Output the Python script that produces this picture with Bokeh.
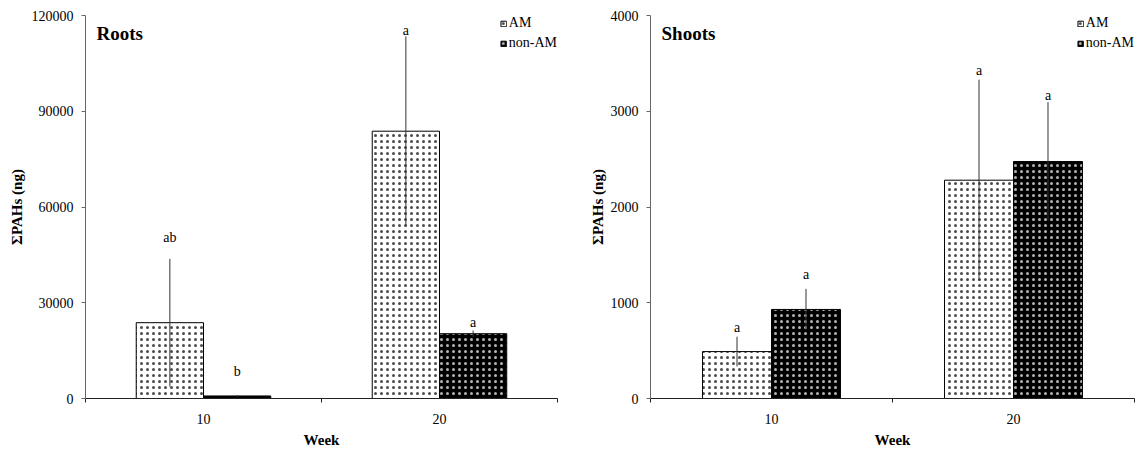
from bokeh.plotting import figure
from bokeh.models import (Range1d, FixedTicker, BasicTickFormatter, Legend,
                          LegendItem, Label, ColumnDataSource)
from bokeh.layouts import row
from bokeh.embed import file_html
from bokeh.resources import INLINE

# ---------------- data ----------------
weeks = ["10", "20"]
groups = ["AM", "non-AM"]

roots_am = [23750, 83750]
roots_am_err = [20000, 29700]
roots_non = [800, 20300]
roots_non_err = [300, 1000]
roots_am_letters = ["ab", "a"]
roots_non_letters = ["b", "a"]
roots_am_letter_y = [50600, 115300]
roots_non_letter_y = [8400, 23800]
roots_ticks = [0, 30000, 60000, 90000, 120000]

shoots_am = [490, 2280]
shoots_am_err = [155, 1050]
shoots_non = [930, 2475]
shoots_non_err = [215, 620]
shoots_am_letters = ["a", "a"]
shoots_non_letters = ["a", "a"]
shoots_am_letter_y = [740, 3430]
shoots_non_letter_y = [1290, 3160]
shoots_ticks = [0, 1000, 2000, 3000, 4000]

FONT = "Liberation Serif"
BAR_W = 0.285


def panel(title, am, am_err, non, non_err, am_let, non_let, am_ly, non_ly,
          ticks, width, mbl, mbr, ylabel_standoff):
    n = len(weeks)
    p = figure(width=width, height=450, output_backend="svg",
               toolbar_location=None, x_range=Range1d(0, n),
               y_range=Range1d(ticks[0], ticks[-1]),
               min_border_left=mbl, min_border_right=mbr,
               min_border_top=15, min_border_bottom=51)
    p.outline_line_color = None
    p.xgrid.visible = False
    p.ygrid.visible = False
    p.background_fill_color = "white"

    centers = [i + 0.5 for i in range(n)]
    x_am = [c - BAR_W / 2 for c in centers]
    x_non = [c + BAR_W / 2 for c in centers]

    src_am = ColumnDataSource(dict(
        x=x_am, top=am, lo=[v - e for v, e in zip(am, am_err)],
        hi=[v + e for v, e in zip(am, am_err)], let=am_let, ly=am_ly))
    src_non = ColumnDataSource(dict(
        x=x_non, top=non, lo=[v - e for v, e in zip(non, non_err)],
        hi=[v + e for v, e in zip(non, non_err)], let=non_let, ly=non_ly))

    r_am = p.vbar(x="x", top="top", bottom=0, width=BAR_W, source=src_am,
                  fill_color="white", line_color="black", line_width=1,
                  hatch_pattern="dot", hatch_color="black", hatch_scale=6,
                  hatch_weight=0.5, hatch_alpha=0.7)
    r_non = p.vbar(x="x", top="top", bottom=0, width=BAR_W, source=src_non,
                   fill_color="black", line_color="black", line_width=1,
                   hatch_pattern="dot", hatch_color="white", hatch_scale=6,
                   hatch_weight=0.5, hatch_alpha=0.7)

    for s in (src_am, src_non):
        p.segment(x0="x", x1="x", y0="lo", y1="hi", source=s,
                  line_color="#333333", line_width=1)
        p.text(x="x", y="ly", text="let", source=s, text_align="center",
               text_baseline="middle", text_font=FONT, text_font_size="14px",
               text_color="black")

    # axes
    xa = p.xaxis[0]
    xa.ticker = FixedTicker(ticks=centers, minor_ticks=list(range(0, n + 1)))
    xa.major_label_overrides = {c: w for c, w in zip(centers, weeks)}
    xa.major_tick_out = 0
    xa.major_tick_in = 0
    xa.minor_tick_out = 4
    xa.minor_tick_in = 0
    xa.major_label_standoff = 11
    xa.axis_line_color = "#222222"
    xa.minor_tick_line_color = "#222222"
    xa.major_label_text_font = FONT
    xa.major_label_text_font_size = "14px"
    xa.major_label_text_color = "black"
    xa.axis_label = "Week"
    xa.axis_label_text_font = FONT
    xa.axis_label_text_font_size = "15px"
    xa.axis_label_text_font_style = "bold"
    xa.axis_label_text_color = "black"
    xa.axis_label_standoff = 5

    ya = p.yaxis[0]
    ya.ticker = FixedTicker(ticks=ticks)
    ya.formatter = BasicTickFormatter(use_scientific=False)
    ya.major_tick_out = 4
    ya.major_tick_in = 0
    ya.minor_tick_line_color = None
    ya.major_label_standoff = 8
    ya.axis_line_color = "#666666"
    ya.major_tick_line_color = "#666666"
    ya.major_label_text_font = FONT
    ya.major_label_text_font_size = "14px"
    ya.major_label_text_color = "black"
    ya.axis_label = "\u03a3PAHs (ng)"
    ya.axis_label_text_font = FONT
    ya.axis_label_text_font_size = "15px"
    ya.axis_label_text_font_style = "bold"
    ya.axis_label_text_color = "black"
    ya.axis_label_standoff = ylabel_standoff

    p.add_layout(Label(x=0, y=ticks[-1], x_offset=11, y_offset=-18,
                       text=title, text_font=FONT, text_font_size="19px",
                       text_font_style="bold", text_baseline="middle",
                       text_color="black"))

    legend = Legend(items=[LegendItem(label=groups[0], renderers=[r_am]),
                           LegendItem(label=groups[1], renderers=[r_non])],
                    location="top_right", orientation="vertical",
                    glyph_width=7, glyph_height=7, label_height=16,
                    label_standoff=2, spacing=4, padding=0, margin=0,
                    border_line_color=None, background_fill_alpha=0,
                    label_text_font=FONT, label_text_font_size="14px",
                    label_text_color="black")
    p.add_layout(legend)
    return p


left = panel("Roots", roots_am, roots_am_err, roots_non, roots_non_err,
             roots_am_letters, roots_non_letters, roots_am_letter_y,
             roots_non_letter_y, roots_ticks, width=580, mbl=85, mbr=23,
             ylabel_standoff=4)
right = panel("Shoots", shoots_am, shoots_am_err, shoots_non, shoots_non_err,
              shoots_am_letters, shoots_non_letters, shoots_am_letter_y,
              shoots_non_letter_y, shoots_ticks, width=560, mbl=70, mbr=6,
              ylabel_standoff=2)

layout = row(left, right)
open("out.html", "w").write(file_html(layout, INLINE))
